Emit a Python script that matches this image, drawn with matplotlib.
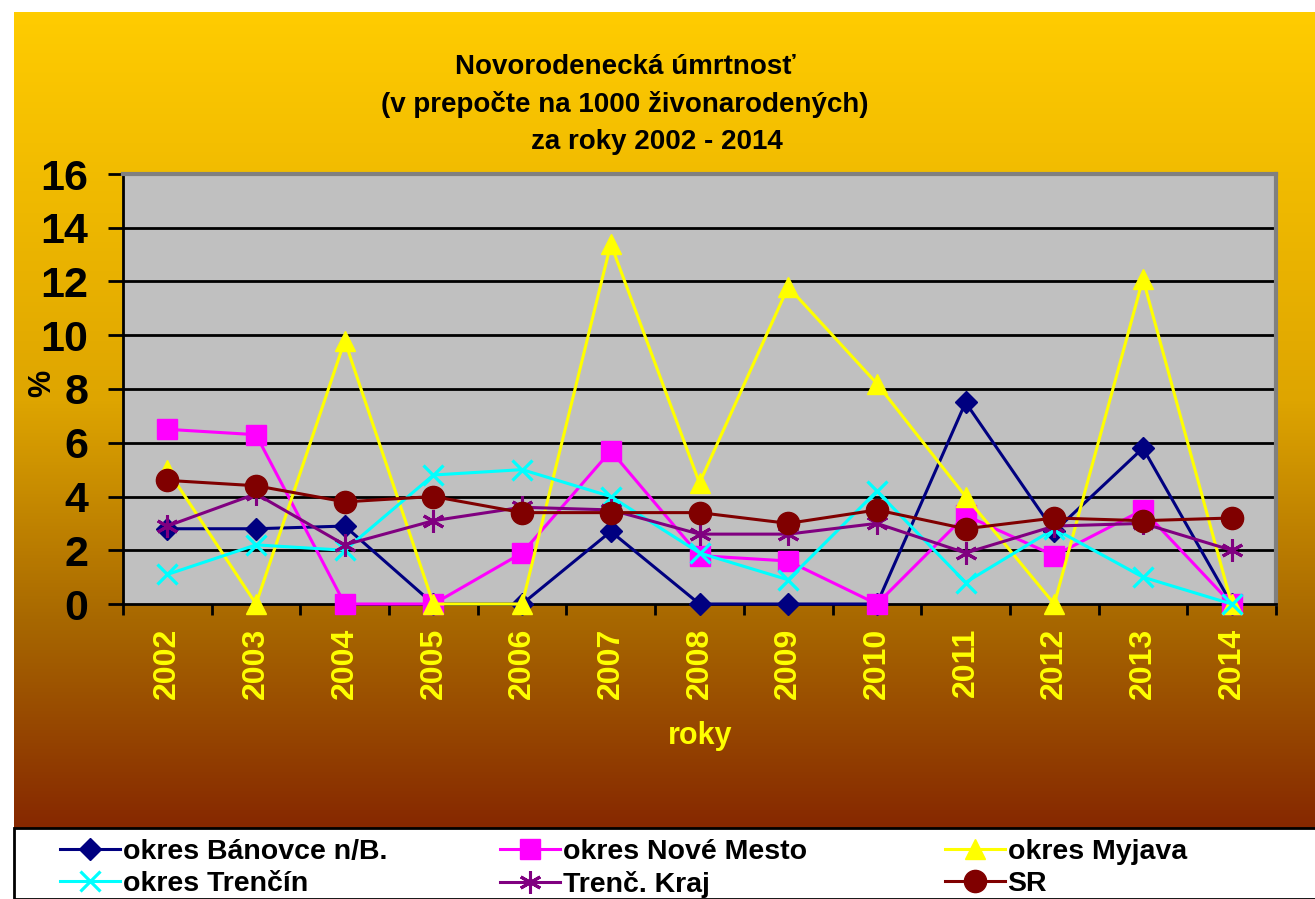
import numpy as np
import matplotlib
matplotlib.use("Agg")
import matplotlib.pyplot as plt
from matplotlib.patches import Rectangle
from matplotlib.lines import Line2D
from matplotlib.colors import LinearSegmentedColormap

# ---------------- data ----------------
years = ["2002", "2003", "2004", "2005", "2006", "2007", "2008",
         "2009", "2010", "2011", "2012", "2013", "2014"]
banovce = [2.8, 2.8, 2.9, 0, 0, 2.7, 0, 0, 0, 7.5, 2.7, 5.8, 0]
nove_mesto = [6.5, 6.3, 0, 0, 1.9, 5.7, 1.8, 1.6, 0, 3.3, 1.8, 3.5, 0]
myjava = [5.0, 0, 9.8, 0, 0, 13.4, 4.5, 11.8, 8.2, 4.0, 0, 12.1, 0]
trencin = [1.1, 2.2, 2.0, 4.8, 5.0, 4.0, 1.9, 0.9, 4.2, 0.8, 2.8, 1.0, 0]
kraj = [2.9, 4.1, 2.2, 3.1, 3.6, 3.5, 2.6, 2.6, 3.0, 1.9, 2.9, 3.0, 2.0]
sr = [4.6, 4.4, 3.8, 4.0, 3.4, 3.4, 3.4, 3.0, 3.5, 2.8, 3.2, 3.1, 3.2]

series_names = ["okres Bánovce n/B.", "okres Nové Mesto", "okres Myjava",
                "okres Trenčín", "Trenč. Kraj", "SR"]
y_ticks = [0, 2, 4, 6, 8, 10, 12, 14, 16]

title_lines = ["Novorodenecká úmrtnosť",
               "(v prepočte na 1000 živonarodených)",
               "za roky 2002 - 2014"]

FONT = "Liberation Sans"
plt.rcParams['font.family'] = [FONT, 'DejaVu Sans']

W, H = 1315, 899
fig = plt.figure(figsize=(W / 100, H / 100), dpi=100, facecolor="white")

def fx(px):
    return px / W

def fy(py):
    return 1 - py / H

# ---------------- gradient background ----------------
bg = fig.add_axes([fx(14), fy(829), 1 - fx(14), fy(12) - fy(829)], zorder=0)
cmap = LinearSegmentedColormap.from_list(
    "gold", [(0.0, (255/255, 204/255, 0)),
             (0.475, (222/255, 165/255, 0)),
             (0.745, (168/255, 104/255, 0)),
             (1.0, (134/255, 40/255, 0))])
grad = np.linspace(0, 1, 512).reshape(-1, 1)
bg.imshow(grad, aspect="auto", cmap=cmap, extent=[0, 1, 0, 1], origin="upper")
bg.set_axis_off()

# ---------------- legend box ----------------
fig.patches.append(Rectangle((fx(14), 0), 1.0, fy(829) + 0.001,
                             transform=fig.transFigure, facecolor="white",
                             edgecolor="black", linewidth=2, zorder=0.5))

# ---------------- main axes ----------------
ax = fig.add_axes([fx(123), fy(604), fx(1276) - fx(123), fy(174) - fy(604)], zorder=1)
ax.set_facecolor("#C0C0C0")
x = np.arange(len(years))

styles = [
    dict(color="#000080", marker="D", ms=11),
    dict(color="#FF00FF", marker="s", ms=14),
    dict(color="#FFFF00", marker="^", ms=14),
    dict(color="#00FFFF", marker="x", ms=14, mew=2.3),
    dict(color="#800080", marker=(6, 2, 0), ms=16, mew=2.2),
    dict(color="#800000", marker="o", ms=16),
]
data = [banovce, nove_mesto, myjava, trencin, kraj, sr]
for vals, st, name in zip(data, styles, series_names):
    ax.plot(x, vals, lw=2.2, clip_on=False, label=name, zorder=3, **st)

ax.set_xlim(-0.5, len(years) - 0.5)
ax.set_ylim(0, 16)

# grid
for v in y_ticks[1:-1]:
    ax.axhline(v, color="black", lw=2.0, zorder=1)

# spines
ax.spines["left"].set_color("black")
ax.spines["bottom"].set_color("black")
ax.spines["left"].set_linewidth(2.0)
ax.spines["bottom"].set_linewidth(2.0)
ax.spines["top"].set_color("#808080")
ax.spines["right"].set_color("#808080")
ax.spines["top"].set_linewidth(3)
ax.spines["right"].set_linewidth(3)

# y ticks
ax.set_yticks(y_ticks)
ax.set_yticklabels([str(v) for v in y_ticks], fontsize=31, fontweight="bold",
                   color="black")
ax.tick_params(axis="y", direction="out", length=11, width=2, pad=14, colors="black")

# x ticks: major at boundaries (marks), minor at centers (labels)
ax.set_xticks(np.arange(-0.5, len(years), 1.0))
ax.set_xticklabels([])
ax.tick_params(axis="x", which="major", direction="out", length=8, width=2)
ax.set_xticks(x, minor=True)
ax.set_xticklabels(years, minor=True, rotation=90, fontsize=23,
                   fontweight="bold", color="#FFFF00")
ax.tick_params(axis="x", which="minor", length=0, pad=17)

# axis labels
fig.text(fx(700), fy(736), "roky", fontsize=22, fontweight="bold",
         color="#FFFF00", ha="center", va="center")
fig.text(fx(42), fy(383), "%", fontsize=22, fontweight="bold",
         color="black", ha="center", va="center", rotation=90)

# title
fig.text(fx(625), fy(67), title_lines[0], fontsize=20, fontweight="bold",
         ha="center", va="center")
fig.text(fx(625), fy(105), title_lines[1], fontsize=20, fontweight="bold",
         ha="center", va="center")
fig.text(fx(657), fy(142), title_lines[2], fontsize=20, fontweight="bold",
         ha="center", va="center")

# legend: 2 rows x 3 columns, placed entry by entry
col_x = [60, 500, 945]
row_y = [852, 884]
order = [0, 1, 2, 3, 4, 5]
for k, i in enumerate(order):
    r, c = divmod(k, 3)
    st = styles[i]
    h = Line2D([], [], color=st["color"], marker=st["marker"],
               ms=st["ms"], mew=st.get("mew", 1.0), lw=2.2,
               label=series_names[i])
    leg = fig.legend(handles=[h], loc="center left",
                     bbox_to_anchor=(fx(col_x[c]), fy(row_y[r])), frameon=False,
                     prop=dict(family=FONT, weight="bold", size=20.5),
                     handlelength=2.1, handletextpad=0.1,
                     borderpad=0, borderaxespad=0)
    leg.set_zorder(2)

fig.savefig("out.png", dpi=100, facecolor="white")
